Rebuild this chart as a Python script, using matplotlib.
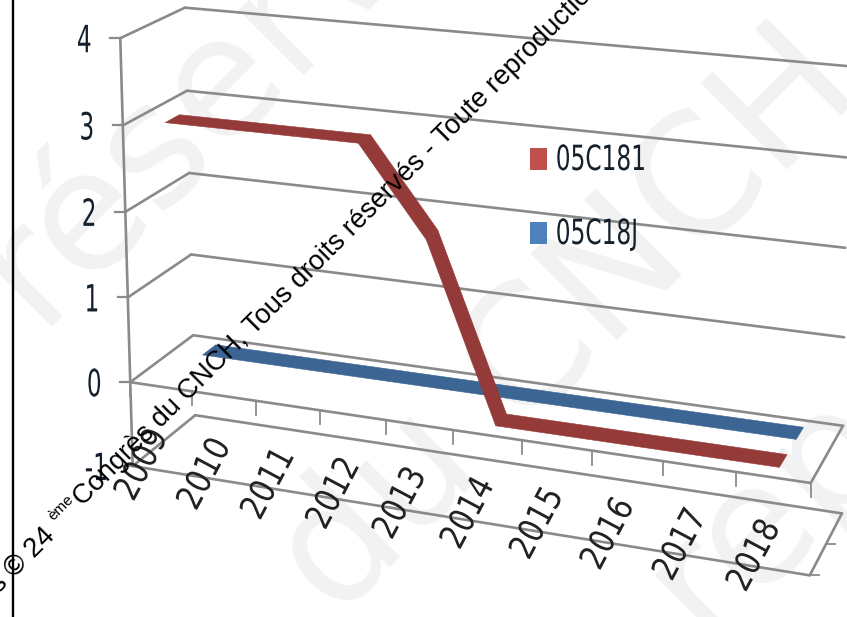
import numpy as np
import matplotlib
matplotlib.use("Agg")
import matplotlib.pyplot as plt
from matplotlib.patches import Polygon, Rectangle
from matplotlib.patheffects import AbstractPathEffect
from matplotlib.transforms import Affine2D

# Series values
years = [2009, 2010, 2011, 2012, 2013, 2014, 2015, 2016, 2017, 2018]
series_181 = [3, 3, 3, 3, 2, 0, 0, 0, 0, 0]
series_18j = [0, 0, 0, 0, 0, 0, 0, 0, 0, 0]
value_ticks = [-1, 0, 1, 2, 3, 4]
legend_names = ["05C181", "05C18J"]

GRID = "#8a8a8a"
FONT = "DejaVu Sans"

# Camera calibration for the 3D box: (along, depth, value) -> canvas position
anchors = [
    ((0, 0, 4), (120, 38)), ((0, 0, 3), (123, 125)), ((0, 0, 2), (126, 211)),
    ((0, 0, 1), (128, 297)), ((0, 0, 0), (130, 381)), ((0, 0, -1), (133, 467)),
    ((0, 1, 4), (185, 8)), ((0, 1, 3), (187, 91)), ((0, 1, 2), (189, 173)),
    ((0, 1, 1), (191, 255)), ((0, 1, 0), (193, 336)), ((0, 1, -1), (195, 414)),
    ((1, 1, 4), (848, 66)), ((1, 1, 3), (846, 157)), ((1, 1, 2), (845, 248)),
    ((1, 1, 1), (844, 338)), ((1, 1, 0), (843, 426)), ((1, 1, -1), (843, 512)),
    ((1, 0, 0), (810, 483)), ((1, 0, -1), (810, 575)),
    ((0.2, 0, 0), (256, 402)), ((0.5, 0, 0), (452, 431)), ((0.7, 0, 0), (592, 451)),
]
rows, rhs = [], []
for (u, d, v), (px, py) in anchors:
    rows.append([u, d, v, 1, 0, 0, 0, 0, -px * u, -px * d, -px * v])
    rows.append([0, 0, 0, 0, u, d, v, 1, -py * u, -py * d, -py * v])
    rhs += [px, py]
coef = np.linalg.lstsq(np.array(rows, float), np.array(rhs, float), rcond=None)[0]
camera = np.append(coef, 1.0).reshape(3, 4)


def project(u, d, v):
    h = camera @ np.array([u, d, v, 1.0])
    return h[0] / h[2], h[1] / h[2]


def center(k):
    # category k sits in the middle of its slot along the axis
    return (k + 0.5) / len(years)


class Condensed(AbstractPathEffect):
    """Squeeze glyphs along the text direction, for a narrow face."""

    def __init__(self, factor, keep_left=False):
        super().__init__()
        self.factor = factor
        self.keep_left = keep_left

    def draw_path(self, renderer, gc, tpath, affine, rgbFace=None):
        box = tpath.get_extents()
        pivot = box.x0 if self.keep_left else (box.x0 + box.x1) / 2
        squeeze = Affine2D().translate(-pivot, 0).scale(self.factor, 1).translate(pivot, 0)
        renderer.draw_path(gc, tpath, squeeze + affine, rgbFace)


fig = plt.figure(figsize=(8.47, 6.17), dpi=100, facecolor="white")
ax = fig.add_axes([0, 0, 1, 1])
ax.set_xlim(0, 847)
ax.set_ylim(617, 0)
ax.axis("off")

# Pale background lettering
pale = dict(color="#f2f2f2", rotation=45, rotation_mode="anchor", fontsize=120,
            family="DejaVu Sans", zorder=1, ha="left", va="baseline")
ax.text(37, 327, "réservés", **pale)
ax.text(336, 620, "du CNCH", **pale)
ax.text(705, 640, "reproduction", **pale)


def seg(a, b, lw=1.9, z=3):
    pa, pb = project(*a), project(*b)
    ax.plot([pa[0], pb[0]], [pa[1], pb[1]], color=GRID, lw=lw, zorder=z,
            solid_capstyle="round")


# Wall gridlines and floors
for v in value_ticks:
    seg((0, 0, v), (0, 1, v))
    seg((0, 1, v), (1, 1, v))
    x, y = project(0, 0, v)
    ax.plot([x - 10, x], [y, y], color=GRID, lw=1.6, zorder=3)
for v in (0, -1):
    seg((0, 0, v), (1, 0, v))
    seg((1, 0, v), (1, 1, v))
seg((0, 0, -1), (0, 0, 4))

# Category ticks hanging from the zero line
for k in range(len(years) + 1):
    x, y = project(k / len(years), 0, 0)
    ax.plot([x, x], [y, y + 14], color=GRID, lw=1.3, zorder=3)

# Depth ticks on the lower right edge
for d in (0, 0.5):
    x, y = project(1, d, -1)
    ax.plot([x, x + 9], [y, y], color=GRID, lw=1.3, zorder=3)


def ribbon(values, depth, width, color):
    # one flat ribbon quad per segment, extruded along the depth axis
    for k in range(len(values) - 1):
        quad = [project(center(k), depth - width / 2, values[k]),
                project(center(k + 1), depth - width / 2, values[k + 1]),
                project(center(k + 1), depth + width / 2, values[k + 1]),
                project(center(k), depth + width / 2, values[k])]
        ax.add_patch(Polygon(quad, closed=True, facecolor=color, edgecolor=color,
                             lw=0.4, zorder=4))


ribbon(series_18j, 0.77, 0.22, "#3c6593")
ribbon(series_181, 0.28, 0.22, "#943a39")

# Value axis labels
for v in value_ticks:
    x, y = project(0, 0, v)
    ax.text(x - 36, y + 4, str(v), ha="center", va="center", fontsize=27,
            family=FONT, color="#14202c", zorder=5, path_effects=[Condensed(0.62)])

# Year labels
for k, year in enumerate(years):
    x, y = project(center(k), 0, 0)
    ax.text(x - 19, y + 78, str(year), rotation=62, rotation_mode="anchor",
            ha="center", va="center", fontsize=25, family=FONT,
            color="#222222", zorder=5, path_effects=[Condensed(0.85)])

# Legend
for name, color, y in zip(legend_names, ["#c0504d", "#4f81bd"], [159, 233]):
    ax.add_patch(Rectangle((530, y - 11), 17, 22, facecolor=color, edgecolor="none", zorder=5))
    ax.text(555, y + 1, name, ha="left", va="center", fontsize=25, family=FONT,
            color="#14202c", zorder=5, path_effects=[Condensed(0.67, keep_left=True)])

# Copyright line running diagonally across the plot
ink = dict(color="black", rotation=45, rotation_mode="anchor", family="Liberation Sans",
           zorder=6, va="baseline")
ax.text(56, 537, "Actes © 24", ha="right", fontsize=20, **ink)
ax.text(53, 521, "ème", ha="left", fontsize=11, **ink)
ax.text(83, 507, "Congrès du CNCH, Tous droits réservés - Toute reproduction", ha="left",
        fontsize=19.6, **ink)

# Frame rule at the left edge
ax.plot([13, 13], [0, 617], color="black", lw=1.7, zorder=7)

fig.savefig("out.png", dpi=100)
